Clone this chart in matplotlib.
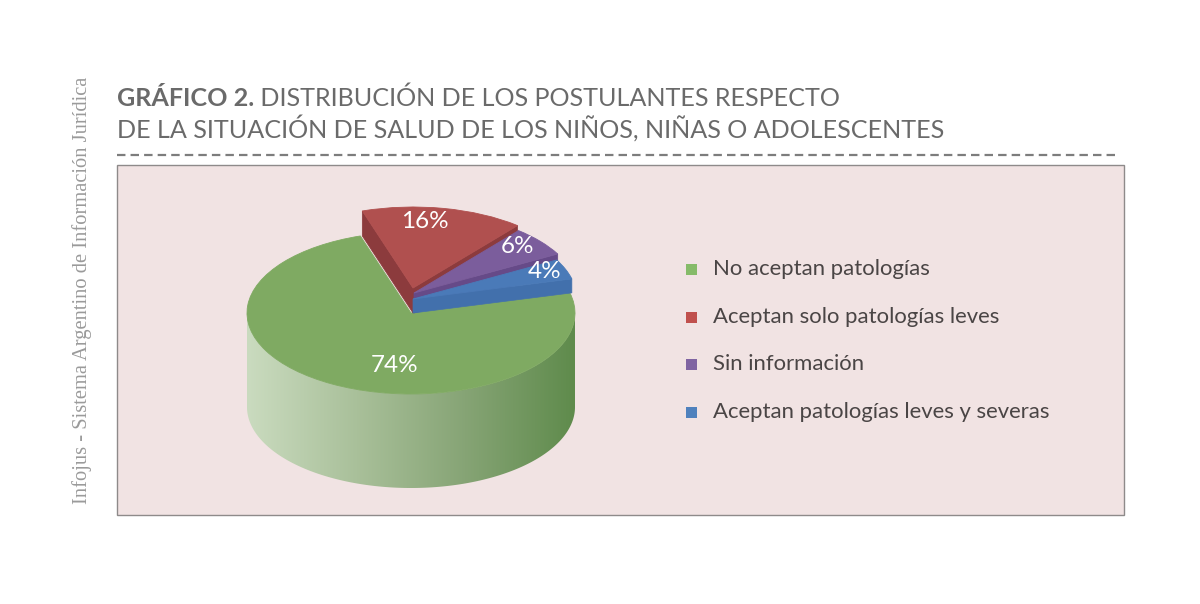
import numpy as np
import matplotlib
matplotlib.use("Agg")
import matplotlib.pyplot as plt
from matplotlib.patches import Rectangle, Polygon
from matplotlib.colors import LinearSegmentedColormap

# ---------------- data ----------------
categories = ["No aceptan patologías", "Aceptan solo patologías leves",
              "Sin información", "Aceptan patologías leves y severas"]
values = [74, 16, 6, 4]
labels = ["74%", "16%", "6%", "4%"]
title_bold = "GRÁFICO 2."
title_rest1 = " DISTRIBUCIÓN DE LOS POSTULANTES RESPECTO"
title_line2 = "DE LA SITUACIÓN DE SALUD DE LOS NIÑOS, NIÑAS O ADOLESCENTES"
side_text = "Infojus - Sistema Argentino de Información Jurídica"

# ---------------- style ----------------
top_colors = ["#7faa62", "#b0504f", "#7b5d9c", "#4a7ab8"]
side_colors = [None, "#8c3b3d", "#664a88", "#4270ac"]
legend_colors = ["#86bb69", "#c0504d", "#8064a2", "#4f81bd"]
lift_px = [0, 25, 20, 14]          # vertical lift of exploded slices (px)
shift_px = [0, 2, 3, 2]            # small horizontal shift (px)
label_pos = [(-0.10, -0.65), (0.07, 0.815), (0.63, 0.57), (0.80, 0.335)]

W, H = 1200, 604
fig = plt.figure(figsize=(W / 100, H / 100), dpi=100)
fig.patch.set_facecolor("white")

def fx(x): return x / W
def fy(y): return 1 - y / H

# background panel
bg = fig.add_axes([0, 0, 1, 1], zorder=0)
bg.set_xlim(0, W); bg.set_ylim(H, 0); bg.axis("off")
bg.add_patch(Rectangle((117, 165), 1007, 350, facecolor="#f1e3e3",
                       edgecolor="#8e8a8a", lw=1.0))
bg.plot([117, 1120], [155, 155], color="#7d7d7d", lw=1.6,
        dashes=(3.8, 2.3), solid_capstyle="butt")

# titles
TFS = 18.1
t = fig.text(fx(117), fy(106), title_bold, fontsize=TFS, fontweight="bold",
             family="Lato", color="#6a6a6a", va="baseline", ha="left")
fig.canvas.draw()
bb = t.get_window_extent()
fig.text(bb.x1 / W, fy(106), title_rest1, fontsize=TFS, family="Lato",
         color="#6a6a6a", va="baseline", ha="left")
fig.text(fx(117), fy(138), title_line2, fontsize=TFS, family="Lato",
         color="#6a6a6a", va="baseline", ha="left")

fig.text(fx(82), fy(290), side_text, rotation=90, fontsize=14.8,
         family="Liberation Serif", color="#9a9a9a", va="center", ha="center")

# ---------------- pie ----------------
cx, cy = 411, 313          # px centre of top face
rx, ry = 164, 81           # px radii
depth_px = 94
L, R, T, B = 200, 620, 175, 512
ax = fig.add_axes([fx(L), fy(B), (R - L) / W, (B - T) / H], zorder=2)
ax.patch.set_alpha(0)
wedges, _ = ax.pie(values, colors=top_colors, startangle=14.4,
                   counterclock=False, radius=1.0,
                   wedgeprops=dict(linewidth=0.6, edgecolor=None))
for w, c in zip(wedges, top_colors):
    w.set_edgecolor(c)
ax.set_aspect("auto")
ax.axis("off")

depth = depth_px / ry
for w in wedges:
    w.set_zorder(5)

def pt(a, r=1.0):
    a = np.deg2rad(a)
    return np.array([r * np.cos(a), r * np.sin(a)])

# green side (front half) with gradient
th = np.linspace(180, 360, 200)
topc = np.array([pt(a) for a in th])
botc = topc - np.array([0, depth])
side = np.vstack([topc, botc[::-1]])
poly = Polygon(side, closed=True, facecolor="none", edgecolor="none")
ax.add_patch(poly)
cmap = LinearSegmentedColormap.from_list(
    "g", ["#cadbbf", "#a9c09a", "#86a475", "#5f8b4c"])
grad = np.linspace(0, 1, 256).reshape(1, -1)
im = ax.imshow(grad, cmap=cmap, extent=[-1, 1, -1 - depth, 0.0],
               aspect="auto", zorder=3, interpolation="bicubic")
im.set_clip_path(poly)
ax.set_xlim((L - cx) / rx, (R - cx) / rx)
ax.set_ylim(-(B - cy) / ry, (cy - T) / ry)

# exploded slices: lift & side faces
z = 6
for i in range(1, len(values)):
    w = wedges[i]
    dx, dy = shift_px[i] / rx, lift_px[i] / ry
    c = np.array([dx, dy])
    w.set_center((dx, dy))
    w.set_zorder(z + 2)
    a_lo, a_hi = w.theta1, w.theta2
    faces = []
    if np.cos(np.deg2rad(a_lo)) > 0:
        faces.append(a_lo)
    if np.cos(np.deg2rad(a_hi)) < 0:
        faces.append(a_hi)
    for a in faces:
        p1 = c
        p2 = c + pt(a)
        quad = [p1, p2, p2 - [0, dy], p1 - [0, dy]]
        ax.add_patch(Polygon(quad, closed=True, facecolor=side_colors[i],
                             edgecolor=side_colors[i], lw=0.5, zorder=z + 1))
    z += 3

# labels
for i, w in enumerate(wedges):
    p = np.array(w.center) + np.array(label_pos[i])
    ax.text(p[0], p[1], labels[i], color="white", fontsize=17.5,
            family="Lato", ha="center", va="center", zorder=20)

# ---------------- legend ----------------
leg_y = [269, 317, 364, 412]
for col, name, y in zip(legend_colors, categories, leg_y):
    bg.add_patch(Rectangle((686, y - 5.5), 11, 11, facecolor=col,
                           edgecolor="none", zorder=3))
    bg.text(713, y, name, fontsize=15.9, family="Lato", color="#4a4545",
            va="center", ha="left", zorder=3)

fig.savefig("out.png", dpi=100, facecolor="white")
